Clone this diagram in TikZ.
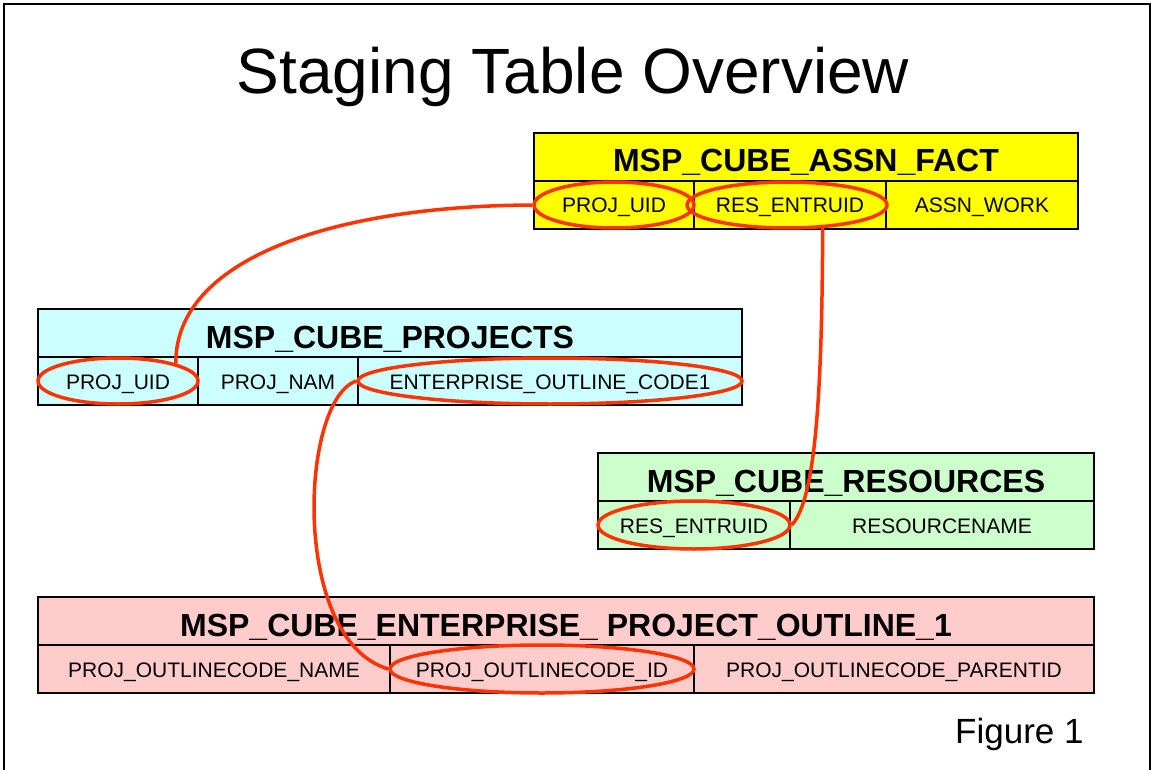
\documentclass[tikz,border=0pt]{standalone}
\usepackage{fontspec}
\setmainfont{Liberation Sans}
\usetikzlibrary{shapes.geometric}
\definecolor{factyellow}{RGB}{255,255,0}
\definecolor{projcyan}{RGB}{204,255,255}
\definecolor{resgreen}{RGB}{204,255,204}
\definecolor{outlpink}{RGB}{255,204,204}
\definecolor{keyred}{RGB}{255,51,0}

\begin{document}
\begin{tikzpicture}[x=1pt, y=-1pt,
  tbl/.style={draw, line width=2pt},
  sep/.style={line width=1.5pt},
  hdr/.style={anchor=base, inner sep=0pt, font=\fontsize{32}{36}\selectfont\bfseries},
  fld/.style={anchor=base, inner sep=0pt, font=\fontsize{21}{24}\selectfont},
  key/.style={ellipse, draw=keyred, line width=3.5pt, inner sep=0pt, minimum height=46},
  link/.style={draw=keyred, line width=3.5pt}]
  \useasboundingbox (0,0) rectangle (1151,770);
  % page frame
  \draw[line width=2.5pt] (4,770) -- (4,4) -- (1150,4) -- (1150,770);
  \node[anchor=base, inner sep=0pt, font=\fontsize{64}{70}\selectfont] (title) at (573,94) {Staging Table Overview};

  % assignment fact table
  \draw[tbl, fill=factyellow] (534,133) rectangle (1078,229);
  \draw[sep] (534,181) -- (1078,181) (694,181) -- (694,229) (886,181) -- (886,229);
  \node[hdr] (facthdr) at (806,172) {MSP\_CUBE\_ASSN\_FACT};
  \node[fld] (factuid) at (614,213) {PROJ\_UID};
  \node[fld] (factres) at (790,213) {RES\_ENTRUID};
  \node[fld] (factwork) at (982,213) {ASSN\_WORK};

  % projects table
  \draw[tbl, fill=projcyan] (38,309) rectangle (742,405);
  \draw[sep] (38,357) -- (742,357) (198,357) -- (198,405) (358,357) -- (358,405);
  \node[hdr] (projhdr) at (390,348) {MSP\_CUBE\_PROJECTS};
  \node[fld] (projuid) at (118,389) {PROJ\_UID};
  \node[fld] (projnam) at (278,389) {PROJ\_NAM};
  \node[fld] (projcode) at (550,389) {ENTERPRISE\_OUTLINE\_CODE1};

  % resources table
  \draw[tbl, fill=resgreen] (598,453) rectangle (1094,549);
  \draw[sep] (598,501) -- (1094,501) (790,501) -- (790,549);
  \node[hdr] (reshdr) at (846,492) {MSP\_CUBE\_RESOURCES};
  \node[fld] (resuid) at (694,533) {RES\_ENTRUID};
  \node[fld] (resname) at (942,533) {RESOURCENAME};

  % outline code table
  \draw[tbl, fill=outlpink] (38,597) rectangle (1094,693);
  \draw[sep] (38,645) -- (1094,645) (390,645) -- (390,693) (694,645) -- (694,693);
  \node[hdr] (outlhdr) at (566,636) {MSP\_CUBE\_ENTERPRISE\_ PROJECT\_OUTLINE\_1};
  \node[fld] (outlname) at (214,677) {PROJ\_OUTLINECODE\_NAME};
  \node[fld] (outlid) at (542,677) {PROJ\_OUTLINECODE\_ID};
  \node[fld] (outlparent) at (894,677) {PROJ\_OUTLINECODE\_PARENTID};

  % key rings
  \node[key, minimum width=160] (k1) at (614,205) {};
  \node[key, minimum width=200] (k2) at (787,205) {};
  \node[key, minimum width=160] (k3) at (118,381) {};
  \node[key, minimum width=384] (k4) at (550,381) {};
  \node[key, minimum width=192, minimum height=48] (k5) at (694,525) {};
  \node[key, minimum width=304, minimum height=48] (k6) at (542,669) {};

  % joins
  \draw[link] (k1.west) .. controls (330,206) and (175,260) .. (k3.north east);
  \draw[link] (k2.-33) .. controls (822,400) and (815,500) .. (k5.east);
  \draw[link] (k4.west) .. controls (300,400) and (290,640) .. (k6.west);

  \node[anchor=base west, inner sep=0pt, font=\fontsize{35}{40}\selectfont] (fig) at (955,743) {Figure 1};
\end{tikzpicture}
\end{document}
